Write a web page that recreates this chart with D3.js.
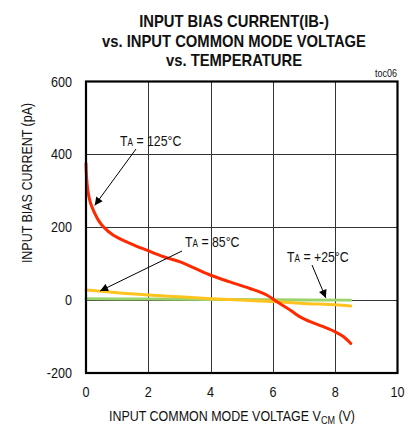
<!DOCTYPE html>
<html>
<head>
<meta charset="utf-8">
<title>Input bias current</title>
<script src="https://cdn.jsdelivr.net/npm/d3@7"></script>
<style>
  body { margin: 0; background: #fff; }
  text { font-family: "Liberation Sans", Arial, sans-serif; fill: #111; }
  .grid line { stroke: #333; stroke-width: 1; shape-rendering: crispEdges; }
</style>
</head>
<body>
<script>
// data (V, pA)
var vcm125 = [0, 0.02, 0.07, 0.15, 0.27, 0.4, 0.56, 0.88, 1.41, 1.95, 2.49, 3.02, 3.98, 4.62, 5.26, 5.80, 6.12, 6.55, 6.87, 7.08, 7.62, 8.0, 8.26, 8.5];
var ib125  = [375, 335, 295, 265, 240, 219, 201, 178, 156, 137, 119, 105, 69, 50, 32, 14, -4, -27, -46, -55, -73, -87, -100, -119];
var vcm85 = [0, 0.5, 1, 2, 3, 4, 5, 6, 7, 8, 8.5];
var ib85  = [28, 24, 20, 14, 9, 4, 0, -4, -9, -13, -16];
var vcm25 = [0, 2, 4, 6, 8.5];
var ib25  = [4, 3, 2, 1, 0];
var xTicks = [0, 2, 4, 6, 8, 10];
var yTicks = [-200, 0, 200, 400, 600];
var titleLines = ["INPUT BIAS CURRENT(IB-)", "vs. INPUT COMMON MODE VOLTAGE", "vs. TEMPERATURE"];

var W = 412, H = 425;
var svg = d3.select("body").append("svg").attr("width", W).attr("height", H);

var x = d3.scaleLinear().domain([0, 10]).range([86, 397.5]);
var y = d3.scaleLinear().domain([-200, 600]).range([373, 81.5]);

// narrow-looking text: squeeze horizontally
function ntext(px, py, sx){
  return svg.append("text").attr("transform", "translate(" + px + "," + py + ") scale(" + sx + ",1)");
}

// title
titleLines.forEach(function(d, i){
  ntext(234, 27 + i * 19.5, 0.87).attr("text-anchor", "middle")
    .attr("font-size", 17).attr("font-weight", "bold").text(d);
});

ntext(397, 77, 0.9).attr("text-anchor", "end").attr("font-size", 10).text("toc06");

// grid
var g = svg.append("g").attr("class", "grid");
g.selectAll(".vx").data(xTicks.slice(1, -1)).enter().append("line")
  .attr("x1", function(d){ return Math.round(x(d)) + 0.5; }).attr("x2", function(d){ return Math.round(x(d)) + 0.5; })
  .attr("y1", y(600)).attr("y2", y(-200));
g.selectAll(".hy").data(yTicks.slice(1, -1)).enter().append("line")
  .attr("y1", function(d){ return Math.round(y(d)) + 0.5; }).attr("y2", function(d){ return Math.round(y(d)) + 0.5; })
  .attr("x1", x(0)).attr("x2", x(10));

// tick labels
xTicks.forEach(function(d){
  ntext(x(d), 397, 0.9).attr("text-anchor", "middle").attr("font-size", 14).text(d);
});
yTicks.forEach(function(d){
  ntext(72, y(d) + 5, 0.9).attr("text-anchor", "end").attr("font-size", 14).text(d);
});

// axis titles
var xt = ntext(232, 421, 0.86).attr("text-anchor", "middle").attr("font-size", 14.5);
xt.append("tspan").text("INPUT COMMON MODE VOLTAGE V");
xt.append("tspan").attr("font-size", 10.5).attr("dy", 3).text("CM");
xt.append("tspan").attr("dy", -3).text(" (V)");

svg.append("text").attr("transform", "translate(32,183) rotate(-90) scale(0.86,1)")
  .attr("text-anchor", "middle").attr("font-size", 14.5).text("INPUT BIAS CURRENT (pA)");

// curves
var line = d3.line().curve(d3.curveCatmullRom.alpha(0.5))
  .x(function(d){ return x(d[0]); }).y(function(d){ return y(d[1]); });
function pairs(a, b){ return a.map(function(v, i){ return [v, b[i]]; }); }

var series = [
  {v: vcm25, i: ib25, c: "#9bd36b"},
  {v: vcm85, i: ib85, c: "#ffc31f"},
  {v: vcm125, i: ib125, c: "#ff2a00"}
];
svg.selectAll(".curve").data(series).enter().append("path")
  .attr("d", function(d){ return line(pairs(d.v, d.i)); })
  .attr("fill", "none").attr("stroke", function(d){ return d.c; })
  .attr("stroke-width", 3).attr("stroke-linecap", "round");

// frame
svg.append("rect").attr("x", x(0)).attr("y", y(600))
  .attr("width", x(10) - x(0)).attr("height", y(-200) - y(600))
  .attr("fill", "none").attr("stroke", "#000").attr("stroke-width", 2.2);

// annotations
svg.append("defs").append("marker").attr("id", "ah").attr("viewBox", "0 0 10 10")
  .attr("refX", 10).attr("refY", 5).attr("markerWidth", 10).attr("markerHeight", 8)
  .attr("markerUnits", "userSpaceOnUse").attr("orient", "auto")
  .append("path").attr("d", "M0,0L10,5L0,10Z").attr("fill", "#000");

var notes = [
  {t: "125°C", tx: 120, ty: 146, from: [136, 149], to: [0.28, 260]},
  {t: "85°C", tx: 185, ty: 247, from: [182, 251], to: [0.45, 25]},
  {t: "+25°C", tx: 287, ty: 262, from: [312, 265], to: [7.7, 6]}
];
notes.forEach(function(n){
  var t = ntext(n.tx, n.ty, 0.82).attr("font-size", 15);
  t.append("tspan").text("T");
  t.append("tspan").attr("font-size", 10).text("A");
  t.append("tspan").text(" = " + n.t);
  svg.append("line").attr("x1", n.from[0]).attr("y1", n.from[1])
    .attr("x2", x(n.to[0])).attr("y2", y(n.to[1]))
    .attr("stroke", "#000").attr("stroke-width", 1).attr("marker-end", "url(#ah)");
});
</script>
</body>
</html>
